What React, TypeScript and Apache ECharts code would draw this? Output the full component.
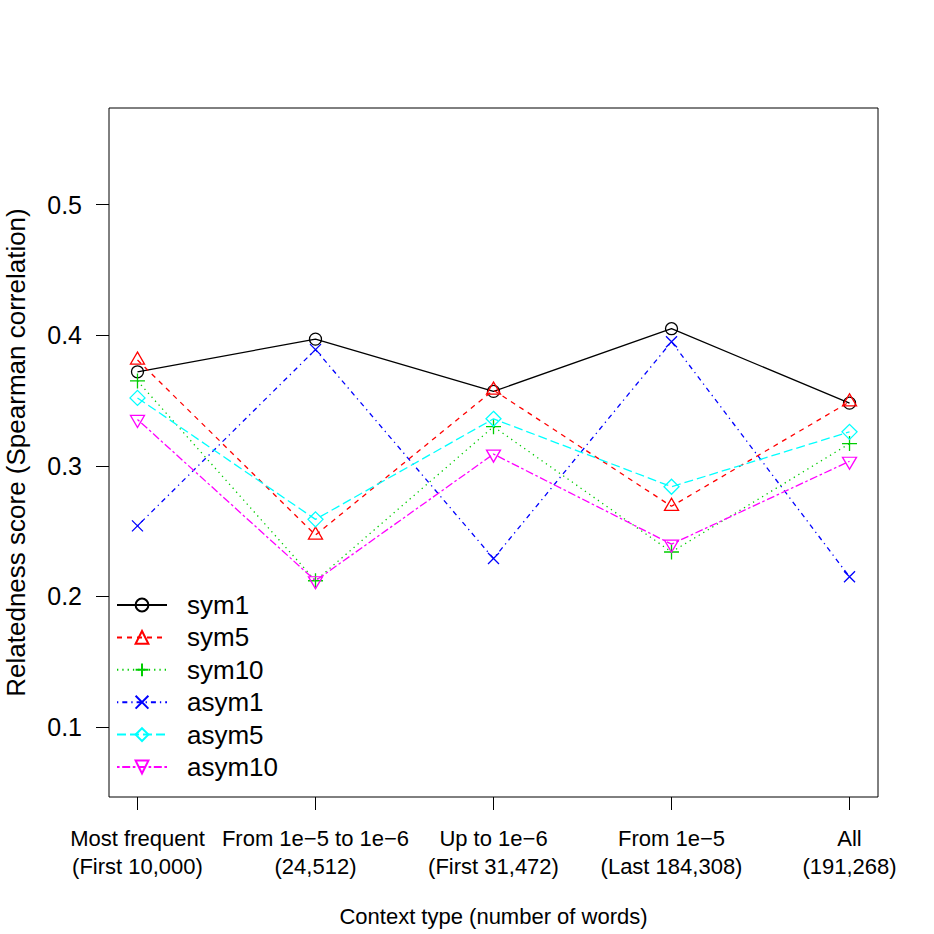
import React, { useEffect, useRef } from "react";
import * as echarts from "echarts";

const categoryLabels = [
  "Most frequent\n(First 10,000)",
  "From 1e\u22125 to 1e\u22126\n(24,512)",
  "Up to 1e\u22126\n(First 31,472)",
  "From 1e\u22125\n(Last 184,308)",
  "All\n(191,268)",
];
const xPositions = [1, 2, 3, 4, 5];
const yTicks = [0.1, 0.2, 0.3, 0.4, 0.5];

const sym1 = [0.372, 0.397, 0.357, 0.405, 0.348];
const sym5 = [0.381, 0.247, 0.358, 0.269, 0.349];
const sym10 = [0.365, 0.212, 0.330, 0.234, 0.317];
const asym1 = [0.254, 0.389, 0.229, 0.395, 0.215];
const asym5 = [0.352, 0.259, 0.336, 0.284, 0.326];
const asym10 = [0.3355, 0.212, 0.309, 0.240, 0.3035];

const seriesNames = ["sym1", "sym5", "sym10", "asym1", "asym5", "asym10"];
const seriesValues = [sym1, sym5, sym10, asym1, asym5, asym10];
const seriesColors = ["#000000", "#FF0000", "#00CD00", "#0000FF", "#00FFFF", "#FF00FF"];

const FONT = "Liberation Sans, Arial, Helvetica, sans-serif";

const SYMBOLS = [
  { symbol: "path://M10,5A5,5,0,1,1,0,5A5,5,0,1,1,10,5Z", size: [12, 12], offset: [0, 0] },
  { symbol: "path://M5,0L10,8.66L0,8.66Z", size: [14, 12], offset: [0, -2] },
  { symbol: "path://M0,5L10,5M5,0L5,10", size: [15, 15], offset: [0, 0] },
  { symbol: "path://M0,0L10,10M10,0L0,10", size: [11, 11], offset: [0, 0] },
  { symbol: "path://M5,0L10,5L5,10L0,5Z", size: [15, 15], offset: [0, 0] },
  { symbol: "path://M0,0L10,0L5,8.66Z", size: [14, 12], offset: [0, 2] },
];
const DASHES: any[] = ["solid", [5, 5], [1.3, 4], [1.3, 4, 5, 4], [9, 4], [2.6, 2.6, 8, 2.6]];

export default function App() {
  const ref = useRef<HTMLDivElement>(null);
  useEffect(() => {
    const chart = echarts.init(ref.current!, null, { renderer: "svg" });
    const series = seriesNames.map((name, i) => ({
      name,
      type: "line",
      data: seriesValues[i].map((v, j) => [xPositions[j], v]),
      symbol: SYMBOLS[i].symbol,
      symbolSize: SYMBOLS[i].size,
      symbolOffset: SYMBOLS[i].offset,
      showAllSymbol: true,
      color: seriesColors[i],
      lineStyle: { color: seriesColors[i], width: 1.3, type: DASHES[i] },
      itemStyle: { color: "rgba(0,0,0,0)", borderColor: seriesColors[i], borderWidth: 1.3 },
      emphasis: { disabled: true },
      z: 2 + i,
    }));
    chart.setOption({
      animation: false,
      backgroundColor: "#ffffff",
      textStyle: { fontFamily: FONT, color: "#000" },
      grid: {
        left: 109,
        right: 56,
        top: 108,
        bottom: 137,
        containLabel: false,
        outerBoundsMode: "none",
        show: true,
        borderColor: "#000",
        borderWidth: 1,
        backgroundColor: "transparent",
      },
      xAxis: {
        type: "value",
        min: 0.84,
        max: 5.16,
        name: "Context type (number of words)",
        nameLocation: "middle",
        nameGap: 108,
        nameTextStyle: { fontSize: 22, color: "#000", fontFamily: FONT },
        axisLine: { show: false },
        splitLine: { show: false },
        axisTick: { show: true, length: 13, inside: false, customValues: xPositions, lineStyle: { color: "#000", width: 1 } },
        axisLabel: {
          customValues: xPositions,
          formatter: (v: number) => categoryLabels[Math.round(v) - 1] ?? "",
          fontSize: 22,
          lineHeight: 28,
          color: "#000",
          margin: 27,
          fontFamily: FONT,
          hideOverlap: false,
        },
      },
      yAxis: {
        type: "value",
        min: 0.0464,
        max: 0.574,
        name: "Relatedness score (Spearman correlation)",
        nameLocation: "middle",
        nameGap: 80,
        nameTextStyle: { fontSize: 26, color: "#000", fontFamily: FONT },
        axisLine: { show: false },
        splitLine: { show: false },
        axisTick: { show: true, length: 13, inside: false, customValues: yTicks, lineStyle: { color: "#000", width: 1 } },
        axisLabel: {
          customValues: yTicks,
          formatter: (v: number) => v.toFixed(1),
          fontSize: 25,
          color: "#000",
          margin: 27,
          fontFamily: FONT,
        },
      },
      legend: {
        orient: "vertical",
        left: 111,
        top: 587,
        padding: 5,
        itemWidth: 50,
        itemHeight: 16,
        itemGap: 6.4,
        data: seriesNames,
        formatter: (n: string) => "{g|}{t|" + n + "}",
        textStyle: {
          color: "#000",
          fontFamily: FONT,
          fontSize: 26,
          lineHeight: 16,
          rich: {
            g: { width: 15, lineHeight: 16, fontSize: 12 },
            t: { fontSize: 26, color: "#000", fontFamily: FONT, lineHeight: 16 },
          },
        },
        selectedMode: false,
      },
      series,
    });
    return () => chart.dispose();
  }, []);
  return (
    <div
      ref={ref}
      style={{ position: "absolute", left: 0, top: 0, width: 934, height: 934, background: "#fff" }}
    />
  );
}
